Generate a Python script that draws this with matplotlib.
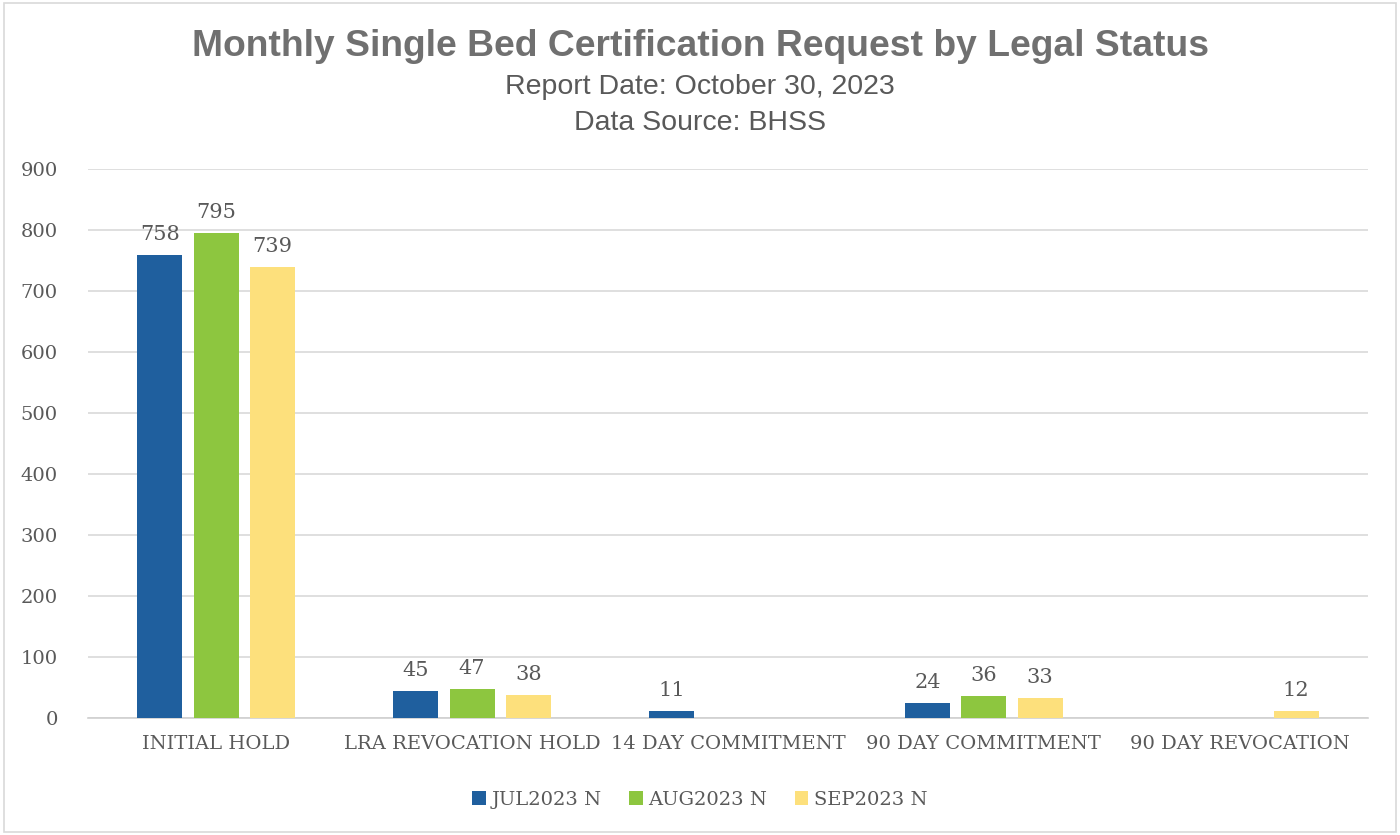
import numpy as np
import matplotlib.pyplot as plt
from matplotlib.patches import Rectangle

categories = ["INITIAL HOLD", "LRA REVOCATION HOLD", "14 DAY COMMITMENT",
              "90 DAY COMMITMENT", "90 DAY REVOCATION"]
series_names = ["JUL2023 N", "AUG2023 N", "SEP2023 N"]
jul = [758, 45, 11, 24, None]
aug = [795, 47, None, 36, None]
sep = [739, 38, None, 33, 12]

colors = ["#1f5f9e", "#8dc63f", "#fde07c"]
text_color = "#595959"
serif = ["DejaVu Serif"]

fig = plt.figure(figsize=(14, 8.35), dpi=100)
fig.patches.append(Rectangle((0.003, 0.003), 0.994, 0.994, transform=fig.transFigure,
                             fill=False, edgecolor="#d9d9d9", linewidth=1.2))
ax = fig.add_axes([0.063, 0.140, 0.914, 0.658])

x = np.arange(len(categories))
width = 0.176
step = 0.22
for i, (vals, name, c) in enumerate(zip([jul, aug, sep], series_names, colors)):
    xs = [xi + (i - 1) * step for xi, v in zip(x, vals) if v is not None]
    ys = [v for v in vals if v is not None]
    ax.bar(xs, ys, width=width, color=c, label=name, zorder=3)
    for xi, v in zip(xs, ys):
        ax.text(xi, v + 18, str(v), ha="center", va="bottom", fontsize=15,
                color=text_color, family=serif)

ax.set_xlim(-0.5, len(categories) - 0.5)
ax.set_ylim(0, 900)
ax.set_yticks(range(0, 901, 100))
ax.set_xticks(x)
ax.set_xticklabels(categories)
for lbl in ax.get_xticklabels() + ax.get_yticklabels():
    lbl.set_family(serif)
    lbl.set_fontsize(14)
    lbl.set_color(text_color)
ax.tick_params(length=0, pad=12)
ax.tick_params(axis="y", pad=22)
ax.grid(axis="y", color="#d9d9d9", linewidth=1.2, zorder=0)
for s in ["top", "right", "left"]:
    ax.spines[s].set_visible(False)
ax.spines["bottom"].set_color("#d0d0d0")
ax.spines["bottom"].set_linewidth(1.2)

fig.text(0.5, 0.944, "Monthly Single Bed Certification Request by Legal Status",
         ha="center", va="center", fontsize=26.8, fontweight="bold",
         color="#707070", family="Liberation Sans")
fig.text(0.5, 0.896, "Report Date: October 30, 2023", ha="center", va="center",
         fontsize=20.5, color=text_color, family="Liberation Sans")
fig.text(0.5, 0.853, "Data Source: BHSS", ha="center", va="center",
         fontsize=20.5, color=text_color, family="Liberation Sans")

leg = fig.legend(loc="center", bbox_to_anchor=(0.5, 0.042), ncol=3, frameon=False,
                 prop={"family": serif, "size": 14}, handlelength=0.7,
                 handleheight=0.7, handletextpad=0.3, columnspacing=1.4)
for t in leg.get_texts():
    t.set_color(text_color)

fig.savefig("out.png", dpi=100)
